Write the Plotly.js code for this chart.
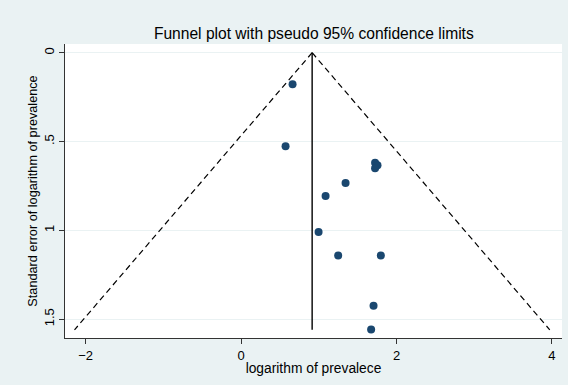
<!DOCTYPE html>
<html><head><meta charset="utf-8">
<script src="https://cdn.plot.ly/plotly-3.0.1.min.js"></script>
<style>html,body{margin:0;padding:0;background:#eaf2f3}#chart{width:568px;height:385px}</style>
</head><body><div id="chart"></div>
<script>
// Study estimates: log prevalence and its standard error
const logPrev = [0.662, 0.572, 1.724, 1.755, 1.724, 1.344, 1.087, 0.997, 1.249, 1.798, 1.704, 1.673];
const seLogPrev = [0.178, 0.527, 0.620, 0.633, 0.650, 0.734, 0.807, 1.010, 1.141, 1.141, 1.425, 1.558];
// Pooled estimate and funnel extent
const pooled = 0.914;
const seRange = [0, 1.56];
const z95 = 1.96;
const xTicks = [-2, 0, 2, 4];
const yTicks = [0, 0.5, 1, 1.5];
const yTickText = ["0", ".5", "1", "1.5"];

const font = "Liberation Sans, Arial, sans-serif";
const traces = [
  {x: seRange.map(s => pooled - z95 * s), y: seRange, mode: "lines", type: "scatter",
   line: {color: "#000", width: 1.2, dash: "6px,4px"}, hoverinfo: "skip"},
  {x: seRange.map(s => pooled + z95 * s), y: seRange, mode: "lines", type: "scatter",
   line: {color: "#000", width: 1.2, dash: "6px,4px"}, hoverinfo: "skip"},
  {x: seRange.map(() => pooled), y: seRange, mode: "lines", type: "scatter",
   line: {color: "#000", width: 1.4}, hoverinfo: "skip"},
  {x: logPrev, y: seLogPrev, mode: "markers", type: "scatter",
   marker: {color: "#1a476f", size: 8}}
];
const layout = {
  width: 568, height: 385,
  paper_bgcolor: "#eaf2f3", plot_bgcolor: "#ffffff",
  margin: {l: 65, r: 6, t: 44, b: 47},
  showlegend: false,
  font: {family: font, size: 12, color: "#000"},
  title: {text: "Funnel plot with pseudo 95% confidence limits", font: {size: 15.6, color: "#000", family: font},
          x: 0.5525, xanchor: "center", y: 0.912, yanchor: "middle"},
  xaxis: {range: [-2.266, 4.129], tickvals: xTicks, ticks: "outside", ticklen: 5, tickcolor: "#333",
          showgrid: false, zeroline: false, showline: true, linecolor: "#333", linewidth: 1,
          tickfont: {size: 13}, title: {text: "logarithm of prevalece", font: {size: 13.8}, standoff: 1}},
  yaxis: {range: [1.606, -0.049], tickvals: yTicks, ticktext: yTickText, tickangle: -90,
          ticks: "outside", ticklen: 5, tickcolor: "#333",
          showgrid: true, gridcolor: "#eaf2f3", gridwidth: 1, zeroline: false,
          showline: true, linecolor: "#333", linewidth: 1,
          tickfont: {size: 13}, title: {text: "Standard error of logarithm of prevalence", font: {size: 12.7}, standoff: 1}}
};
Plotly.newPlot("chart", traces, layout, {displayModeBar: false, staticPlot: true});
</script></body></html>
